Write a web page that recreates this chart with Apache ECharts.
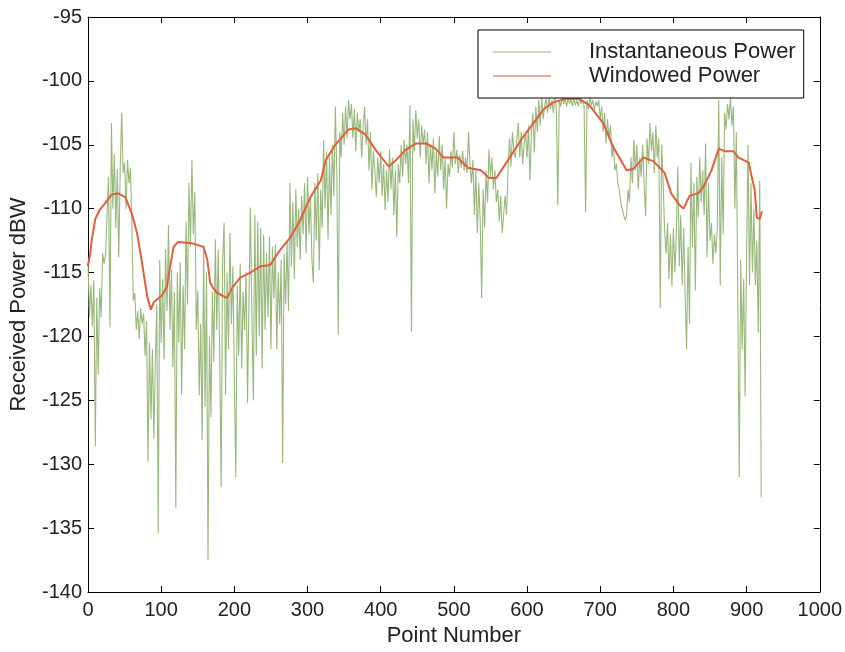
<!DOCTYPE html>
<html><head><meta charset="utf-8">
<script src="https://cdn.jsdelivr.net/npm/echarts@6/dist/echarts.min.js"></script>
<style>html,body{margin:0;padding:0;background:#fff}#c{width:845px;height:652px}</style>
</head><body><div id="c"></div>
<script>
// Tick values
const xTicks = [0,100,200,300,400,500,600,700,800,900,1000];
const yTicks = [-140,-135,-130,-125,-120,-115,-110,-105,-100,-95];

const instStep = 2;
const instPower = [
-114.2,-118.5,-116.0,-119.2,-115.6,-128.6,-117.0,-123.0,-116.2,-118.5,
-113.5,-114.3,-113.6,-110.5,-107.5,-119.3,-103.3,-110.0,-105.7,-111.5,
-106.9,-113.8,-107.0,-102.5,-107.2,-106.4,-110.0,-106.2,-108.0,-106.8,
-111.5,-117.2,-116.6,-119.5,-118.0,-120.2,-117.8,-119.0,-118.2,-121.5,
-118.8,-129.8,-120.5,-126.5,-121.0,-128.0,-122.0,-117.5,-135.4,-114.0,
-120.5,-115.5,-121.8,-113.2,-118.0,-111.3,-119.5,-114.8,-122.4,-116.5,
-133.4,-115.0,-120.5,-114.2,-124.6,-116.0,-121.0,-111.0,-117.5,-108.0,
-113.0,-106.2,-112.0,-108.7,-119.5,-116.4,-124.6,-119.0,-128.1,-113.3,
-125.5,-115.0,-137.5,-120.0,-126.3,-116.5,-122.0,-112.4,-119.5,-113.2,
-121.5,-131.8,-114.0,-111.1,-124.5,-115.0,-121.0,-111.9,-119.0,-114.5,
-123.5,-131.0,-116.0,-121.5,-114.3,-122.5,-116.5,-119.5,-115.0,-125.2,
-117.0,-109.9,-118.5,-125.0,-110.5,-121.5,-111.0,-120.0,-111.5,-122.5,
-112.0,-119.5,-113.5,-118.5,-112.2,-121.0,-113.0,-117.0,-112.8,-121.0,
-115.0,-119.0,-114.0,-129.9,-113.5,-117.5,-112.6,-118.0,-108.0,-114.5,
-109.5,-115.5,-108.5,-113.0,-110.0,-114.0,-109.0,-112.0,-108.0,-113.5,
-107.5,-112.0,-109.0,-114.0,-115.8,-108.0,-112.5,-107.2,-114.8,-108.5,
-111.5,-104.6,-110.0,-105.5,-112.4,-106.0,-110.5,-105.0,-109.0,-102.0,
-107.0,-119.9,-104.0,-106.0,-102.5,-105.0,-102.0,-104.5,-101.5,-103.0,
-101.8,-104.5,-102.2,-105.5,-102.5,-104.0,-103.0,-106.0,-103.5,-102.0,
-105.0,-103.0,-107.0,-104.0,-108.5,-105.5,-107.0,-109.1,-106.0,-108.0,
-105.5,-109.0,-106.5,-110.1,-107.0,-109.5,-105.4,-108.5,-106.0,-110.5,
-107.0,-112.2,-106.5,-108.0,-105.0,-107.5,-104.6,-106.5,-105.0,-108.0,
-101.9,-119.7,-103.0,-105.5,-102.3,-104.5,-103.0,-106.0,-103.5,-105.0,
-103.8,-106.5,-104.0,-108.0,-105.0,-107.0,-104.5,-108.8,-105.5,-107.5,
-104.3,-107.0,-105.0,-108.5,-106.0,-110.0,-106.5,-107.5,-105.5,-106.8,
-104.0,-106.5,-105.4,-107.2,-105.8,-106.8,-105.5,-107.0,-106.0,-107.2,
-104.0,-106.5,-108.0,-106.2,-110.5,-107.0,-111.9,-108.0,-111.0,-117.0,
-108.5,-111.5,-107.0,-109.5,-105.4,-107.5,-106.0,-108.5,-107.0,-109.5,
-108.5,-111.0,-109.0,-111.9,-110.5,-109.0,-110.5,-107.0,-104.5,-106.7,
-104.0,-105.5,-106.0,-104.5,-103.3,-106.0,-104.0,-106.5,-105.0,-104.0,
-106.0,-103.5,-107.8,-104.0,-102.5,-105.6,-102.0,-104.0,-101.5,-103.5,
-101.3,-103.0,-102.0,-101.4,-102.5,-101.3,-102.2,-101.5,-102.5,-101.3,
-102.0,-109.7,-101.5,-102.0,-101.3,-101.8,-101.4,-102.0,-101.3,-101.8,
-101.4,-102.0,-101.3,-101.9,-101.5,-102.0,-101.3,-101.8,-101.5,-102.0,
-110.3,-101.5,-102.2,-101.3,-101.9,-101.5,-102.3,-101.6,-102.0,-101.5,
-103.0,-102.0,-104.0,-102.5,-104.9,-103.0,-104.5,-103.5,-106.0,-105.0,
-107.0,-106.5,-108.0,-108.5,-109.5,-110.0,-110.5,-110.9,-110.6,-108.5,
-109.5,-106.0,-108.0,-104.6,-107.0,-105.0,-108.5,-106.0,-107.5,-105.0,
-108.0,-110.6,-104.5,-106.5,-103.3,-105.5,-104.0,-107.2,-103.5,-106.0,
-104.5,-117.8,-105.0,-108.0,-111.7,-113.5,-111.1,-115.5,-112.0,-116.1,
-111.5,-115.0,-112.0,-106.7,-114.5,-110.5,-116.0,-111.5,-116.5,-121.0,
-113.0,-119.0,-106.4,-113.0,-108.0,-116.4,-107.5,-110.7,-106.0,-109.5,
-107.0,-110.5,-104.9,-113.8,-108.0,-112.5,-111.1,-114.3,-112.0,-113.5,
-111.5,-101.5,-116.0,-106.0,-112.0,-102.5,-103.8,-101.8,-103.0,-101.3,
-103.5,-102.0,-110.0,-104.0,-117.0,-131.0,-114.0,-121.0,-115.5,-124.7,
-113.8,-105.0,-116.0,-108.0,-115.0,-110.0,-116.0,-112.5,-119.7,-107.8,
-132.6
];

// Windowed power
const winX = [0,3,5,10,16,23,32,41,51,60,67,74,81,86,90,101,108,112,117,123,142,158,163,167,172,177,190,197,208,222,236,249,263,277,290,304,318,325,338,356,366,379,393,411,421,434,448,462,475,486,505,519,537,548,558,574,592,605,623,635,653,671,685,704,718,736,745,759,773,788,797,808,814,822,834,842,852,862,870,882,889,903,907,911,914,918,921];
const winY = [-114.5,-113.5,-112.5,-110.8,-110.1,-109.6,-108.9,-108.8,-109.1,-110.4,-111.9,-114.3,-116.9,-117.9,-117.3,-116.8,-116.1,-114.6,-113.0,-112.6,-112.7,-113.0,-114.0,-115.8,-116.3,-116.6,-117.0,-116.2,-115.4,-115.0,-114.5,-114.4,-113.2,-112.2,-110.9,-109.1,-107.8,-106.2,-105.0,-103.8,-103.7,-104.2,-105.4,-106.7,-106.2,-105.4,-104.9,-104.9,-105.3,-106.0,-106.0,-106.8,-107.0,-107.6,-107.6,-106.2,-104.6,-103.6,-102.2,-101.7,-101.4,-101.4,-101.9,-103.3,-105.2,-107.0,-106.9,-106.0,-106.3,-107.2,-108.8,-109.7,-110.0,-109.0,-108.8,-108.2,-107.0,-105.3,-105.5,-105.5,-106.0,-106.4,-107.5,-108.5,-110.7,-110.8,-110.2];

const seriesNames = ['Instantaneous Power','Windowed Power'];

const instData = instPower.map((v,i)=>[i*instStep, v]);
const winData = winX.map((x,i)=>[x, winY[i]]);

const FONT = 'Liberation Sans, Arial, sans-serif';
const txt = {fontFamily: FONT, fontSize: 20, color: '#222'};
const nameTxt = {fontFamily: FONT, fontSize: 22, color: '#222'};

function xAx(pos, showLabel, name){
  return {type:'value', min:xTicks[0], max:xTicks[xTicks.length-1], interval:100, position:pos,
    axisLine:{show:true,onZero:false,lineStyle:{color:'#000',width:1}},
    axisTick:{show:true,inside:true,length:6,lineStyle:{color:'#000'}},
    axisLabel:Object.assign({show:showLabel,margin:8,formatter:(v)=>String(v)},txt),
    splitLine:{show:false},
    name: name||'', nameLocation:'middle', nameGap:32, nameTextStyle:nameTxt};
}
function yAx(pos, showLabel, name){
  return {type:'value', min:yTicks[0], max:yTicks[yTicks.length-1], interval:5, position:pos,
    axisLine:{show:true,onZero:false,lineStyle:{color:'#000',width:1}},
    axisTick:{show:true,inside:true,length:6,lineStyle:{color:'#000'}},
    axisLabel:Object.assign({show:showLabel,margin:6,formatter:(v)=>String(v)},txt),
    splitLine:{show:false},
    name: name||'', nameLocation:'middle', nameGap:58, nameTextStyle:nameTxt};
}

const chart = echarts.init(document.getElementById('c'), null, {renderer:'canvas'});
chart.setOption({
  animation:false,
  backgroundColor:'#fff',
  grid:{left:88, right:25, top:17, bottom:60, containLabel:false},
  xAxis:[xAx('bottom',true,'Point Number'), xAx('top',false)],
  yAxis:[yAx('left',true,'Received Power dBW'), yAx('right',false)],
  legend:{
    data:seriesNames, left:478, top:30, orient:'vertical',
    backgroundColor:'#fff', borderColor:'#000', borderWidth:1,
    padding:[11,8,11,15], itemGap:2, icon:'rect', itemWidth:58, itemHeight:1.5,
    textStyle:{fontFamily:FONT, fontSize:22, color:'#222', lineHeight:20, padding:[0,0,0,33]},
    selectedMode:false
  },
  series:[
    {name:seriesNames[0], type:'line', xAxisIndex:0, yAxisIndex:0, data:instData, showSymbol:false,
     lineStyle:{color:'#97b87a', width:1.1}, itemStyle:{color:'#b9cfa6'}, z:2},
    {name:seriesNames[1], type:'line', xAxisIndex:0, yAxisIndex:0, data:winData, showSymbol:false,
     lineStyle:{color:'#e0603c', width:2}, itemStyle:{color:'#e88a70'}, z:3}
  ]
});
</script></body></html>
